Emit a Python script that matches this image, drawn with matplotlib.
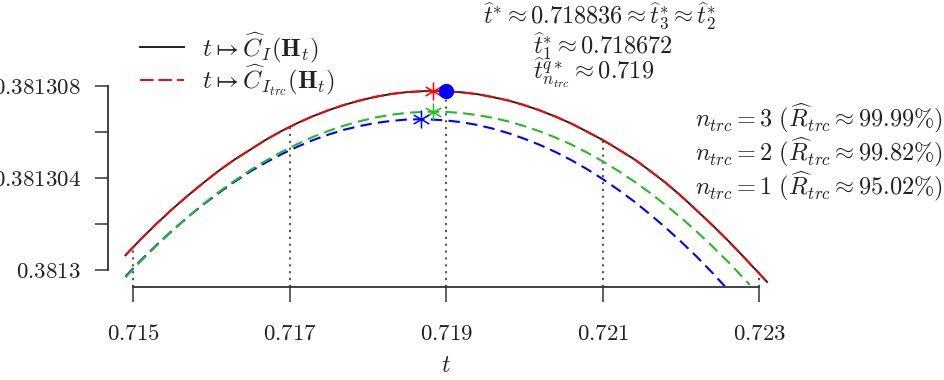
import numpy as np
import matplotlib
matplotlib.use('Agg')
import matplotlib.pyplot as plt
from matplotlib.path import Path

plt.rcParams['mathtext.fontset'] = 'cm'
plt.rcParams['font.family'] = 'serif'
plt.rcParams['font.serif'] = ['cmr10', 'DejaVu Serif']
plt.rcParams['axes.unicode_minus'] = False

## data
# exact cost t -> C_I(H_t)
t_exact = [0.7149, 0.7151, 0.7153, 0.7155, 0.7157, 0.7159, 0.7161, 0.7163, 0.7165, 0.7167,
           0.7169, 0.7171, 0.7173, 0.7175, 0.7177, 0.7179, 0.7181, 0.7183, 0.7185, 0.7187,
           0.71884, 0.7190, 0.7192, 0.7194, 0.7196, 0.7198, 0.7200, 0.7202, 0.7204, 0.7206,
           0.7208, 0.7210, 0.7212, 0.7214, 0.7216, 0.7218, 0.7220, 0.7222, 0.7224, 0.7226,
           0.7228, 0.7230, 0.7231]
c_exact = [0.38130064, 0.38130135, 0.38130202, 0.38130265, 0.38130324, 0.38130380, 0.38130433,
           0.38130481, 0.38130524, 0.38130567, 0.38130605, 0.38130639, 0.38130669, 0.38130695,
           0.38130718, 0.38130737, 0.38130753, 0.38130765, 0.38130773, 0.38130777, 0.38130778,
           0.38130777, 0.38130772, 0.38130764, 0.38130751, 0.38130736, 0.38130716, 0.38130693,
           0.38130666, 0.38130636, 0.38130601, 0.38130565, 0.38130524, 0.38130482, 0.38130432,
           0.38130380, 0.38130322, 0.38130259, 0.38130195, 0.38130128, 0.38130057, 0.38129984,
           0.38129948]

# truncated, n_trc = 2 (green)
t_n2 = [0.7149, 0.7151, 0.7153, 0.7155, 0.7157, 0.7159, 0.7161, 0.7163, 0.7165, 0.7167,
        0.7169, 0.7171, 0.7173, 0.7175, 0.7177, 0.7179, 0.7181, 0.7183, 0.7185, 0.7187,
        0.718834, 0.7190, 0.7192, 0.7194, 0.7196, 0.7198, 0.7200, 0.7202, 0.7204, 0.7206,
        0.7208, 0.7210, 0.7212, 0.7214, 0.7216, 0.7218, 0.7220, 0.7222, 0.7224, 0.7226,
        0.7228, 0.72288]
c_n2 = [0.38129968, 0.38130040, 0.38130107, 0.38130171, 0.38130231, 0.38130288, 0.38130341,
        0.38130389, 0.38130435, 0.38130476, 0.38130514, 0.38130548, 0.38130579, 0.38130605,
        0.38130628, 0.38130647, 0.38130663, 0.38130675, 0.38130683, 0.38130687, 0.38130688,
        0.38130687, 0.38130682, 0.38130673, 0.38130661, 0.38130645, 0.38130625, 0.38130602,
        0.38130575, 0.38130545, 0.38130510, 0.38130472, 0.38130430, 0.38130385, 0.38130336,
        0.38130283, 0.38130227, 0.38130167, 0.38130103, 0.38130036, 0.38129964, 0.38129935]

# truncated, n_trc = 1 (blue)
t_n1 = [0.7149, 0.7151, 0.7153, 0.7155, 0.7157, 0.7159, 0.7161, 0.7163, 0.7165, 0.7167,
        0.7169, 0.7171, 0.7173, 0.7175, 0.7177, 0.7179, 0.7181, 0.7183, 0.7185, 0.718672,
        0.7188, 0.7190, 0.7192, 0.7194, 0.7196, 0.7198, 0.7200, 0.7202, 0.7204, 0.7206,
        0.7208, 0.7210, 0.7212, 0.7214, 0.7216, 0.7218, 0.7220, 0.7222, 0.7224, 0.72256]
c_n1 = [0.38129972, 0.38130043, 0.38130109, 0.38130172, 0.38130231, 0.38130286, 0.38130337,
        0.38130385, 0.38130429, 0.38130468, 0.38130504, 0.38130536, 0.38130565, 0.38130589,
        0.38130610, 0.38130626, 0.38130639, 0.38130648, 0.38130654, 0.38130655, 0.38130654,
        0.38130650, 0.38130642, 0.38130630, 0.38130614, 0.38130594, 0.38130570, 0.38130543,
        0.38130512, 0.38130477, 0.38130438, 0.38130395, 0.38130348, 0.38130298, 0.38130243,
        0.38130185, 0.38130123, 0.38130058, 0.38129988, 0.38129929]

# optima
t_opt = [0.718836, 0.718836, 0.718672]
c_opt = [0.38130778, 0.38130688, 0.38130655]
green = '#22bb22'
opt_colors = ['red', green, 'blue']
t_q, c_q = 0.719, 0.38130777

# axes ticks
x_ticks = [0.715, 0.717, 0.719, 0.721, 0.723]
x_labels = ['0.715', '0.717', '0.719', '0.721', '0.723']
c_at_xticks = [0.38130100, 0.38130620, 0.38130777, 0.38130565, 0.38129993]
y_ticks = [0.3813, 0.381302, 0.381304, 0.381306, 0.381308]
y_labels = ['0.3813', '', '0.381304', '', '0.381308']

trc_labels = [r'$n_{trc} = 3\ (\widehat{R}_{trc} \approx 99.99\%)$',
              r'$n_{trc} = 2\ (\widehat{R}_{trc} \approx 99.82\%)$',
              r'$n_{trc} = 1\ (\widehat{R}_{trc} \approx 95.02\%)$']
opt_labels = [r'$\widehat{t}^{*} \approx 0.718836 \approx \widehat{t}^{*}_{3} \approx \widehat{t}^{*}_{2}$',
              r'$\widehat{t}^{*}_{1} \approx 0.718672$',
              r'$\widehat{t}^{q*}_{n_{trc}} \approx 0.719$']

# asterisk mark: vertical stroke plus two diagonals
c30, s30 = np.cos(np.pi / 6), 0.5
star = Path([(0, -1), (0, 1), (-c30, -s30), (c30, s30), (-c30, s30), (c30, -s30)],
            [Path.MOVETO, Path.LINETO] * 3)


# Plot figure
W, H = 945, 380
fig = plt.figure(figsize=(W / 100, H / 100), dpi=100)
ax = fig.add_axes([108 / W, (H - 287) / H, (775 - 108) / W, (287 - 30) / H])

ymin, ymax = 0.38129926, 0.38131043
ax.vlines(x_ticks, ymin, c_at_xticks, colors='#444444', linestyles=(0, (1.2, 2.6)), lw=1.3, zorder=1)

dash = (0, (5.5, 3))
ax.plot(t_n1, c_n1, color='blue', lw=1.5, ls=dash, zorder=2)
ax.plot(t_n2, c_n2, color=green, lw=1.5, ls=dash, zorder=2)
ax.plot(t_exact, c_exact, color='#222222', lw=1.4, label=r'$t \mapsto \widehat{C}_I(\mathbf{H}_t)$', zorder=3)
ax.plot(t_exact, c_exact, color='red', lw=1.4, ls=(0, (7, 2.5)),
        label=r'$t \mapsto \widehat{C}_{I_{trc}}(\mathbf{H}_t)$', zorder=4)

for tt, cc, col in zip(t_opt, c_opt, opt_colors):
    ax.plot(tt, cc, marker=star, color=col, ms=13, mew=1.1, fillstyle='none', zorder=5)
ax.plot(t_q, c_q, 'o', color='blue', ms=10, zorder=6)

ax.set_xlim(0.714677, 0.723201)
ax.set_ylim(ymin, ymax)
ax.set_xticks(x_ticks)
ax.set_xticklabels(['$' + s + '$' for s in x_labels])
ax.set_yticks(y_ticks)
ax.set_yticklabels(['$' + s + '$' if s else '' for s in y_labels])

for s in ['top', 'right']:
    ax.spines[s].set_visible(False)
ax.spines['left'].set_bounds(0.3813, 0.381308)
ax.spines['bottom'].set_bounds(0.715, 0.723)
for s in ['left', 'bottom']:
    ax.spines[s].set_color('#333333')
    ax.spines[s].set_linewidth(1.3)
ax.tick_params(axis='x', length=11, width=1.1, color='#333333', pad=16, labelsize=16.5, labelcolor='#222222')
ax.tick_params(axis='y', length=9.5, width=1.1, color='#333333', pad=10, labelsize=16.5, labelcolor='#222222')
ax.patch.set_visible(False)

ax.text(0.719, -(366 - 287) / (287 - 30), '$t$', fontsize=17, ha='center', va='center',
        transform=ax.get_xaxis_transform(), color='#222222')

leg = ax.legend(loc='upper left', bbox_to_anchor=(140 / W, 1 - 30 / H), bbox_transform=fig.transFigure,
                frameon=False, fontsize=18, handlelength=1.75, handletextpad=0.75, labelspacing=-0.1,
                borderpad=0, borderaxespad=0)
for txt in leg.get_texts():
    txt.set_color('#222222')

for i, lab in enumerate(opt_labels):
    fig.text((483 if i == 0 else 533) / W, 1 - [16, 46, 73][i] / H, lab, fontsize=17.5,
             ha='left', va='center', color='#222222')
for i, lab in enumerate(trc_labels):
    fig.text(695 / W, 1 - [119, 153, 187][i] / H, lab, fontsize=17.5,
             ha='left', va='center', color='#222222')

plt.savefig('out.png', dpi=100)
